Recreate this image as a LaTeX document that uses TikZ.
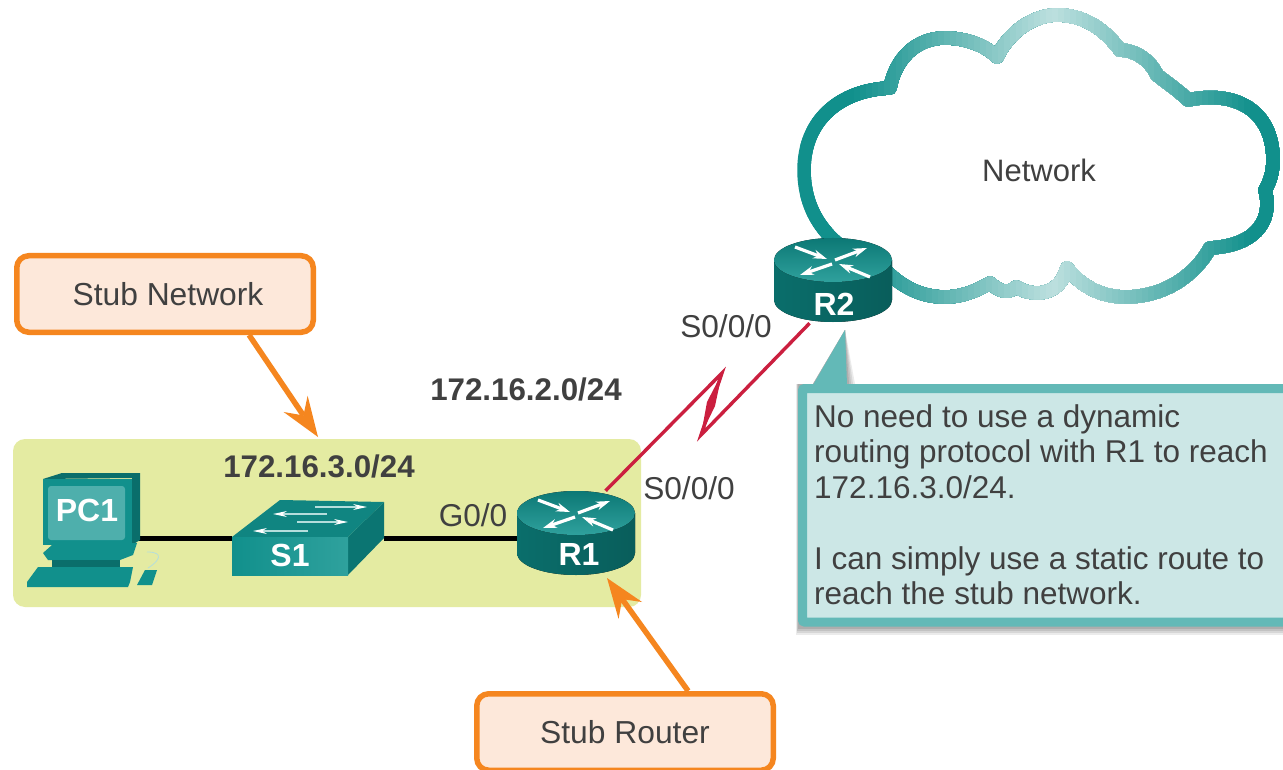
\documentclass[tikz,border=0pt]{standalone}
\usepackage{fontspec}
\setmainfont{Liberation Sans}
\usepackage{xcolor}
\usetikzlibrary{arrows.meta}
\definecolor{teal1}{HTML}{11908C}
\definecolor{teal2}{HTML}{0A6E6B}
\definecolor{teal3}{HTML}{2FA19D}
\definecolor{tealpale}{HTML}{B5DEDC}
\definecolor{orangeline}{HTML}{F5861F}
\definecolor{peach}{HTML}{FDE8DA}
\definecolor{stubfill}{HTML}{E4EBA2}
\definecolor{notefill}{HTML}{CCE7E6}
\definecolor{noteline}{HTML}{63B9B7}
\definecolor{wanred}{HTML}{CB1F3F}
\definecolor{inktext}{HTML}{404040}
\tikzset{
  devbox/.style={inner sep=0pt, minimum width=#1},
  callout/.style={draw=orangeline, fill=peach, line width=5.5pt, rounded corners=12pt, text=inktext,
    minimum width=296.5pt, minimum height=76.5pt, font=\fontsize{31.8}{35}\selectfont},
  pointer/.style={draw=orangeline, line width=5.5pt, -{Stealth[length=40pt,width=29pt,inset=14pt,line width=0pt]}},
  lab/.style={text=inktext, inner sep=0pt, font=\fontsize{31.6}{35}\selectfont},
  netlab/.style={text=inktext, inner sep=0pt, font=\fontsize{31.3}{35}\selectfont\bfseries},
  devlab/.style={text=white, inner sep=0pt, font=\fontsize{32}{35}\selectfont\bfseries},
  whitearrow/.style={draw=white, line width=3.2pt, -{Stealth[length=14pt,width=9pt,line width=0pt]}},
  thinarrow/.style={draw=tealpale, line width=1.8pt, -{Stealth[length=14pt,width=6pt,line width=0pt,white]}},
  routericon/.pic={
    \fill[left color=teal2, middle color=teal3, right color=teal2!85!black] (-59,0) -- (-59,40) arc[start angle=180, end angle=0, x radius=59, y radius=22] -- (59,0) -- cycle;
    \fill[top color=teal2!70!teal1, bottom color=teal3] (-59,0) arc[start angle=180, end angle=-180, x radius=59, y radius=22];
    \draw[whitearrow] (-38,-13) -- (-6,-1);
    \draw[whitearrow] (2,0) -- (34,-12);
    \draw[whitearrow] (-1,4) -- (-33,15);
    \draw[whitearrow] (37,17) -- (6,4);
  }
}
\begin{document}
\begin{tikzpicture}[x=1pt,y=-1pt]
\clip (0,0) rectangle (1283,770);
\fill[white] (0,0) rectangle (1283,770);
% cloud, strip by strip for the horizontal fade
\foreach \cx in {794,800,...,1280}{
  \pgfmathsetmacro\mixv{min(100,28+0.36*abs(\cx-1050))}
  \begin{scope}
    \clip (\cx,0) rectangle (1283,330);
    \draw[line width=13.5pt, color=teal1!\mixv!white, line join=round]
      (804,170) .. controls (804,120) and (840,90) .. (890,88)
      .. controls (895,60) and (915,38) .. (945,38)
      .. controls (965,38) and (985,45) .. (997,57)
      .. controls (1010,30) and (1035,15) .. (1057,15)
      .. controls (1085,15) and (1105,30) .. (1120,50)
      .. controls (1135,50) and (1150,60) .. (1157,75)
      .. controls (1170,85) and (1180,92) .. (1188,100)
      .. controls (1235,90) and (1273,110) .. (1273,160)
      .. controls (1273,172) and (1270,182) .. (1265,190)
      .. controls (1272,215) and (1262,245) .. (1210,248)
      .. controls (1195,275) and (1165,297) .. (1125,297)
      .. controls (1100,297) and (1080,285) .. (1067,268)
      .. controls (1060,295) and (1035,298) .. (1016,287)
      .. controls (1008,294) and (1000,292) .. (990,283)
      .. controls (975,292) and (960,297) .. (945,297)
      .. controls (925,297) and (905,290) .. (885,270)
      .. controls (830,250) and (804,215) .. (804,170) -- cycle;
  \end{scope}
}
\node[inner sep=0pt, text=inktext, font=\fontsize{31}{35}\selectfont] (cloudlab) at (1039,170) {Network};
% stub area
\fill[stubfill, rounded corners=12pt] (13,439) rectangle (641,607);
% device places
\node[devbox=96pt, minimum height=112pt] (PC1) at (90,529) {};
\node[devbox=152pt, minimum height=75pt] (S1) at (308,538) {};
\node[devbox=118pt, minimum height=84pt] (R1) at (576,533) {};
\node[devbox=118pt, minimum height=84pt] (R2) at (833,281) {};
% links
\draw[line width=5pt] (PC1.east |- S1.west) -- (S1.west);
\draw[line width=5pt] (S1.east) -- (R1.west |- S1.east);
\coordinate (bolttop) at (722,373);
\coordinate (boltlow) at (701,435);
\draw[wanred, line width=3.4pt, miter limit=20] (R1.55) -- (bolttop) -- (boltlow) -- (R2.241);
\fill[wanred] (bolttop) -- (707,402) -- (boltlow) -- (715,406) -- cycle;
% PC1
\fill[teal2] (43,479) -- (62,473) -- (140,473) -- (140,540) -- (132,545) -- (132,478) -- cycle;
\fill[teal1] (43,479) -- (132,479) -- (132,545) -- (43,545) -- cycle;
\fill[rounded corners=3pt, color=teal3!85!white] (48,486) rectangle (125,540);
\fill[teal1] (52,545) -- (137,543) -- (133,555) -- (120,560) -- (48,560) -- (43,553) -- cycle;
\fill[teal2] (52,560) rectangle (120,567);
\fill[teal1] (38,567) -- (133,567) -- (130,582) -- (128,587) -- (27,587) -- (27,582) -- cycle;
\fill[teal1] (145,570) -- (157,570) -- (152,585) -- (137,585) -- cycle;
\draw[tealpale, line width=0.8pt] (148,568) .. controls (158,562) and (166,552) .. (147,552);
\node[devlab] (PC1text) at (87,510) {PC1};
% S1
\fill[teal2!80!teal1] (348,537) -- (384,502) -- (384,538) -- (348,575) -- cycle;
\fill[teal1!92!black] (232,537) -- (280,500) -- (384,502) -- (348,537) -- cycle;
\fill[left color=teal1, right color=teal3] (232,537) rectangle (348,575);
\draw[thinarrow] (315,507) -- (367,507);
\draw[thinarrow] (327,514) -- (273,514);
\draw[thinarrow] (297,522) -- (348,522);
\draw[thinarrow] (308,531) -- (253,531);
\node[devlab] (S1text) at (290,555) {S1};
% routers
\pic at (576,513) {routericon};
\node[devlab] (R1text) at (579,554) {R1};
\pic at (833,260) {routericon};
\node[devlab] (R2text) at (834,304) {R2};
% addresses
\node[netlab] (net2) at (526,389) {172.16.2.0/24};
\node[netlab] (net3) at (319,466) {172.16.3.0/24};
\node[lab] (g00) at (473,515) {G0/0};
\node[lab] (s00r2) at (726,326) {S0/0/0};
\node[lab] (s00r1) at (689,488) {S0/0/0};
% note
\foreach \off/\shade in {8/8,6/16,4/24,2/32}{
  \fill[black!\shade] (798-\off/4,384) rectangle (1300,627+\off);
  \fill[black!\shade] (813,384) -- (845,330) -- (847+\off,384) -- cycle;
}
\fill[noteline] (813,385) -- (845,330) -- (847,385) -- cycle;
\draw[noteline, line width=9pt, fill=notefill, rounded corners=2pt] (802.5,388.5) rectangle (1300,622);
\node[lab, anchor=north west, align=left, font=\fontsize{31.5}{35.5}\selectfont] (notetext) at (814,404)
  {No need to use a dynamic\\routing protocol with R1 to reach\\172.16.3.0/24.\\[35.5pt]I can simply use a static route to\\reach the stub network.};
% callouts
\node[callout] (stubnet) at (165,294) {\hspace*{6pt}Stub Network};
\node[callout] (stubrtr) at (625,732) {Stub Router};
\coordinate (stubtip) at (318,437);
\coordinate (routertip) at (607,578);
\draw[pointer] (stubnet.334) -- (stubtip);
\draw[pointer] (stubrtr.33) -- (routertip);
\end{tikzpicture}
\end{document}
